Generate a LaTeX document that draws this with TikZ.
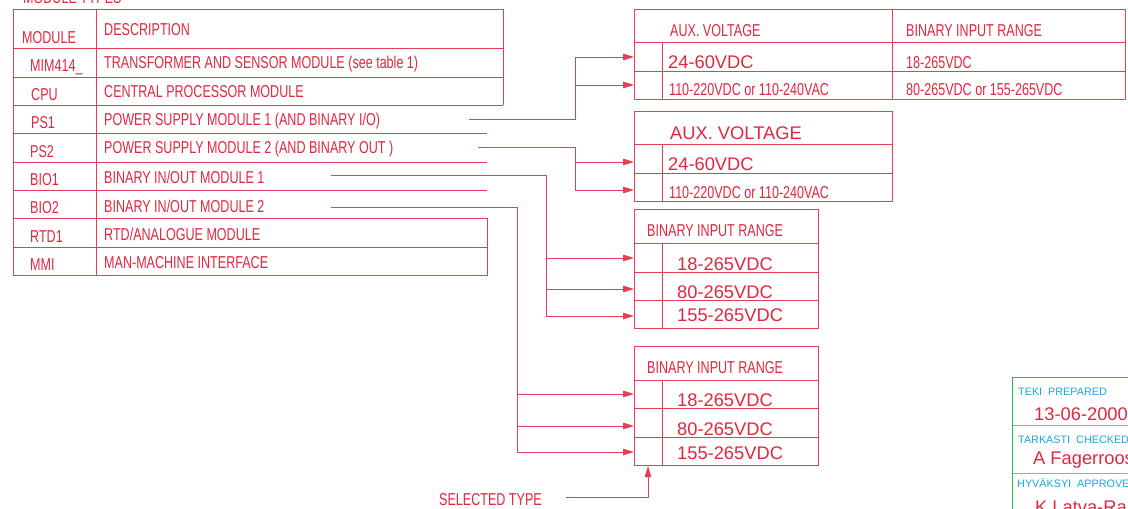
\documentclass[tikz,border=0pt]{standalone}
\usepackage{fontspec}
\setmainfont{Liberation Sans}
\newfontfamily\narrowsf[FakeStretch=0.73]{Liberation Sans}
\usepackage{xcolor}
\usetikzlibrary{arrows.meta}
\definecolor{dwgred}{RGB}{226,38,62}
\definecolor{dwgline}{RGB}{230,62,84}
\definecolor{dwggreen}{RGB}{46,184,84}
\definecolor{dwgblue}{RGB}{28,164,222}
\definecolor{dwgpink}{RGB}{238,128,168}

\begin{document}
\begin{tikzpicture}[
  x=1pt, y=-1pt,
  ln/.style={draw=dwgline, line width=1pt},
  arr/.style={ln, -{Triangle[length=11pt, width=6.5pt]}},
  txt/.style={inner sep=0pt, anchor=base west, text=dwgred, font=\narrowsf\fontsize{17.2}{18}\selectfont},
  big/.style={txt, font=\fontsize{18.3}{19}\selectfont},
  lbl/.style={inner sep=0pt, anchor=base west, text=dwgblue, font=\fontsize{10.8}{12}\selectfont}
]
\useasboundingbox (0,0) rectangle (1128,509);

\node[txt] (title) at (23,3) {MODULE TYPES};
\draw[ln] (13,275) -- (13,9) -- (503,9) -- (503,105);
\draw[ln] (96,9) -- (96,275);
\draw[ln] (13,48) -- (503,48) (13,77) -- (503,77) (13,105) -- (503,105);
\draw[ln] (13,133) -- (487,133) (13,162) -- (487,162) (13,190) -- (487,190);
\draw[ln] (13,218) -- (487,218) -- (487,275) -- (13,275) (13,247) -- (487,247);

\node[txt] (hmod) at (22,43) {MODULE};
\node[txt] (hdesc) at (104,35) {DESCRIPTION};
\node[txt] (mim) at (30,71) {MIM414\_};
\node[txt] (dmim) at (104,68) {TRANSFORMER AND SENSOR MODULE (see table 1)};
\node[txt] (cpu) at (31,100) {CPU};
\node[txt] (dcpu) at (104,97) {CENTRAL PROCESSOR MODULE};
\node[txt] (ps1) at (31,128) {PS1};
\node[txt] (dps1) at (104,125) {POWER SUPPLY MODULE 1 (AND BINARY I/O)};
\node[txt] (ps2) at (30,157) {PS2};
\node[txt] (dps2) at (104,153) {POWER SUPPLY MODULE 2 (AND BINARY OUT )};
\node[txt] (bio1) at (30,185) {BIO1};
\node[txt] (dbio1) at (104,183) {BINARY IN/OUT MODULE 1};
\node[txt] (bio2) at (30,213) {BIO2};
\node[txt] (dbio2) at (104,212) {BINARY IN/OUT MODULE 2};
\node[txt] (rtd) at (30,242) {RTD1};
\node[txt] (drtd) at (104,240) {RTD/ANALOGUE MODULE};
\node[txt] (mmi) at (30,270) {MMI};
\node[txt] (dmmi) at (104,268) {MAN-MACHINE INTERFACE};

\draw[ln] (634,9) rectangle (1125,99);
\draw[ln] (634,42) -- (1125,42) (634,71) -- (1125,71) (662,42) -- (662,99) (892,9) -- (892,99);
\node[txt] (aux1) at (670,36.5) {AUX. VOLTAGE};
\node[txt] (bin1) at (906,36.5) {BINARY INPUT RANGE};
\node[big] (lo1) at (668,68) {24-60VDC};
\node[txt] (blo1) at (906,68) {18-265VDC};
\node[txt] (hi1) at (669,95) {110-220VDC or 110-240VAC};
\node[txt] (bhi1) at (906,95) {80-265VDC or 155-265VDC};

\draw[ln] (634,111) rectangle (892,201);
\draw[ln] (634,144) -- (892,144) (634,173) -- (892,173) (662,144) -- (662,201);
\node[big] (aux2) at (670,139) {AUX. VOLTAGE};
\node[big] (lo2) at (668,170) {24-60VDC};
\node[txt] (hi2) at (669,198) {110-220VDC or 110-240VAC};

\draw[ln] (634,209) rectangle (818,328);
\draw[ln] (634,243) -- (818,243) (634,272) -- (818,272) (634,300) -- (818,300) (662,243) -- (662,328);
\node[txt] (bin3) at (647,236.5) {BINARY INPUT RANGE};
\node[big] (r3a) at (677,270) {18-265VDC};
\node[big] (r3b) at (677,298) {80-265VDC};
\node[big] (r3c) at (677,321.5) {155-265VDC};

\draw[ln] (634,346) rectangle (818,465);
\draw[ln] (634,380) -- (818,380) (634,408) -- (818,408) (634,437) -- (818,437) (662,380) -- (662,465);
\node[txt] (bin4) at (647,373) {BINARY INPUT RANGE};
\node[big] (r4a) at (677,406) {18-265VDC};
\node[big] (r4b) at (677,435.5) {80-265VDC};
\node[big] (r4c) at (677,459) {155-265VDC};

\coordinate (c1) at (469,119);
\coordinate (c2) at (478,147);
\coordinate (c3) at (331,175);
\coordinate (c4) at (331,207);
\coordinate (a1) at (634,57);
\coordinate (a2) at (634,85);
\coordinate (b1) at (634,162);
\coordinate (b2) at (634,190);
\coordinate (e1) at (634,258);
\coordinate (e2) at (634,289);
\coordinate (e3) at (634,316);
\coordinate (f1) at (634,394);
\coordinate (f2) at (634,426);
\coordinate (f3) at (634,452);
\coordinate (v1) at (575,57);
\coordinate (v2) at (575,190);
\coordinate (v3) at (546,316);
\coordinate (v4) at (517,452);
\draw[arr] (c1) -| (v1) -- (a1);
\draw[arr] (v1 |- a2) -- (a2);
\draw[arr] (c2) -| (v2) -- (b2);
\draw[arr] (v2 |- b1) -- (b1);
\draw[arr] (c3) -| (v3) -- (e3);
\draw[arr] (v3 |- e1) -- (e1);
\draw[arr] (v3 |- e2) -- (e2);
\draw[arr] (c4) -| (v4) -- (f3);
\draw[arr] (v4 |- f1) -- (f1);
\draw[arr] (v4 |- f2) -- (f2);

\node[txt] (sel) at (439,505) {SELECTED TYPE};
\coordinate (sx) at (566,497);
\coordinate (t4) at (648,466);
\draw[arr] (sx) -| (t4);

\draw[draw=dwggreen, line width=1pt] (1012,512) -- (1012,377) -- (1130,377);
\draw[draw=dwgpink, line width=1pt] (1013,425) -- (1130,425) (1013,473) -- (1130,473);
\node[lbl] (prep) at (1018,395) {TEKI\ \ PREPARED};
\node[big] (date) at (1034,420) {13-06-2000};
\node[lbl] (chkl) at (1018,443) {TARKASTI\ \ CHECKED};
\node[big] (chk) at (1033,464) {A Fagerroos};
\node[lbl] (aprl) at (1017,487) {HYVÄKSYI\ \ APPROVED};
\node[big] (apr) at (1035,513) {K Latva-Ra};
\end{tikzpicture}
\end{document}
